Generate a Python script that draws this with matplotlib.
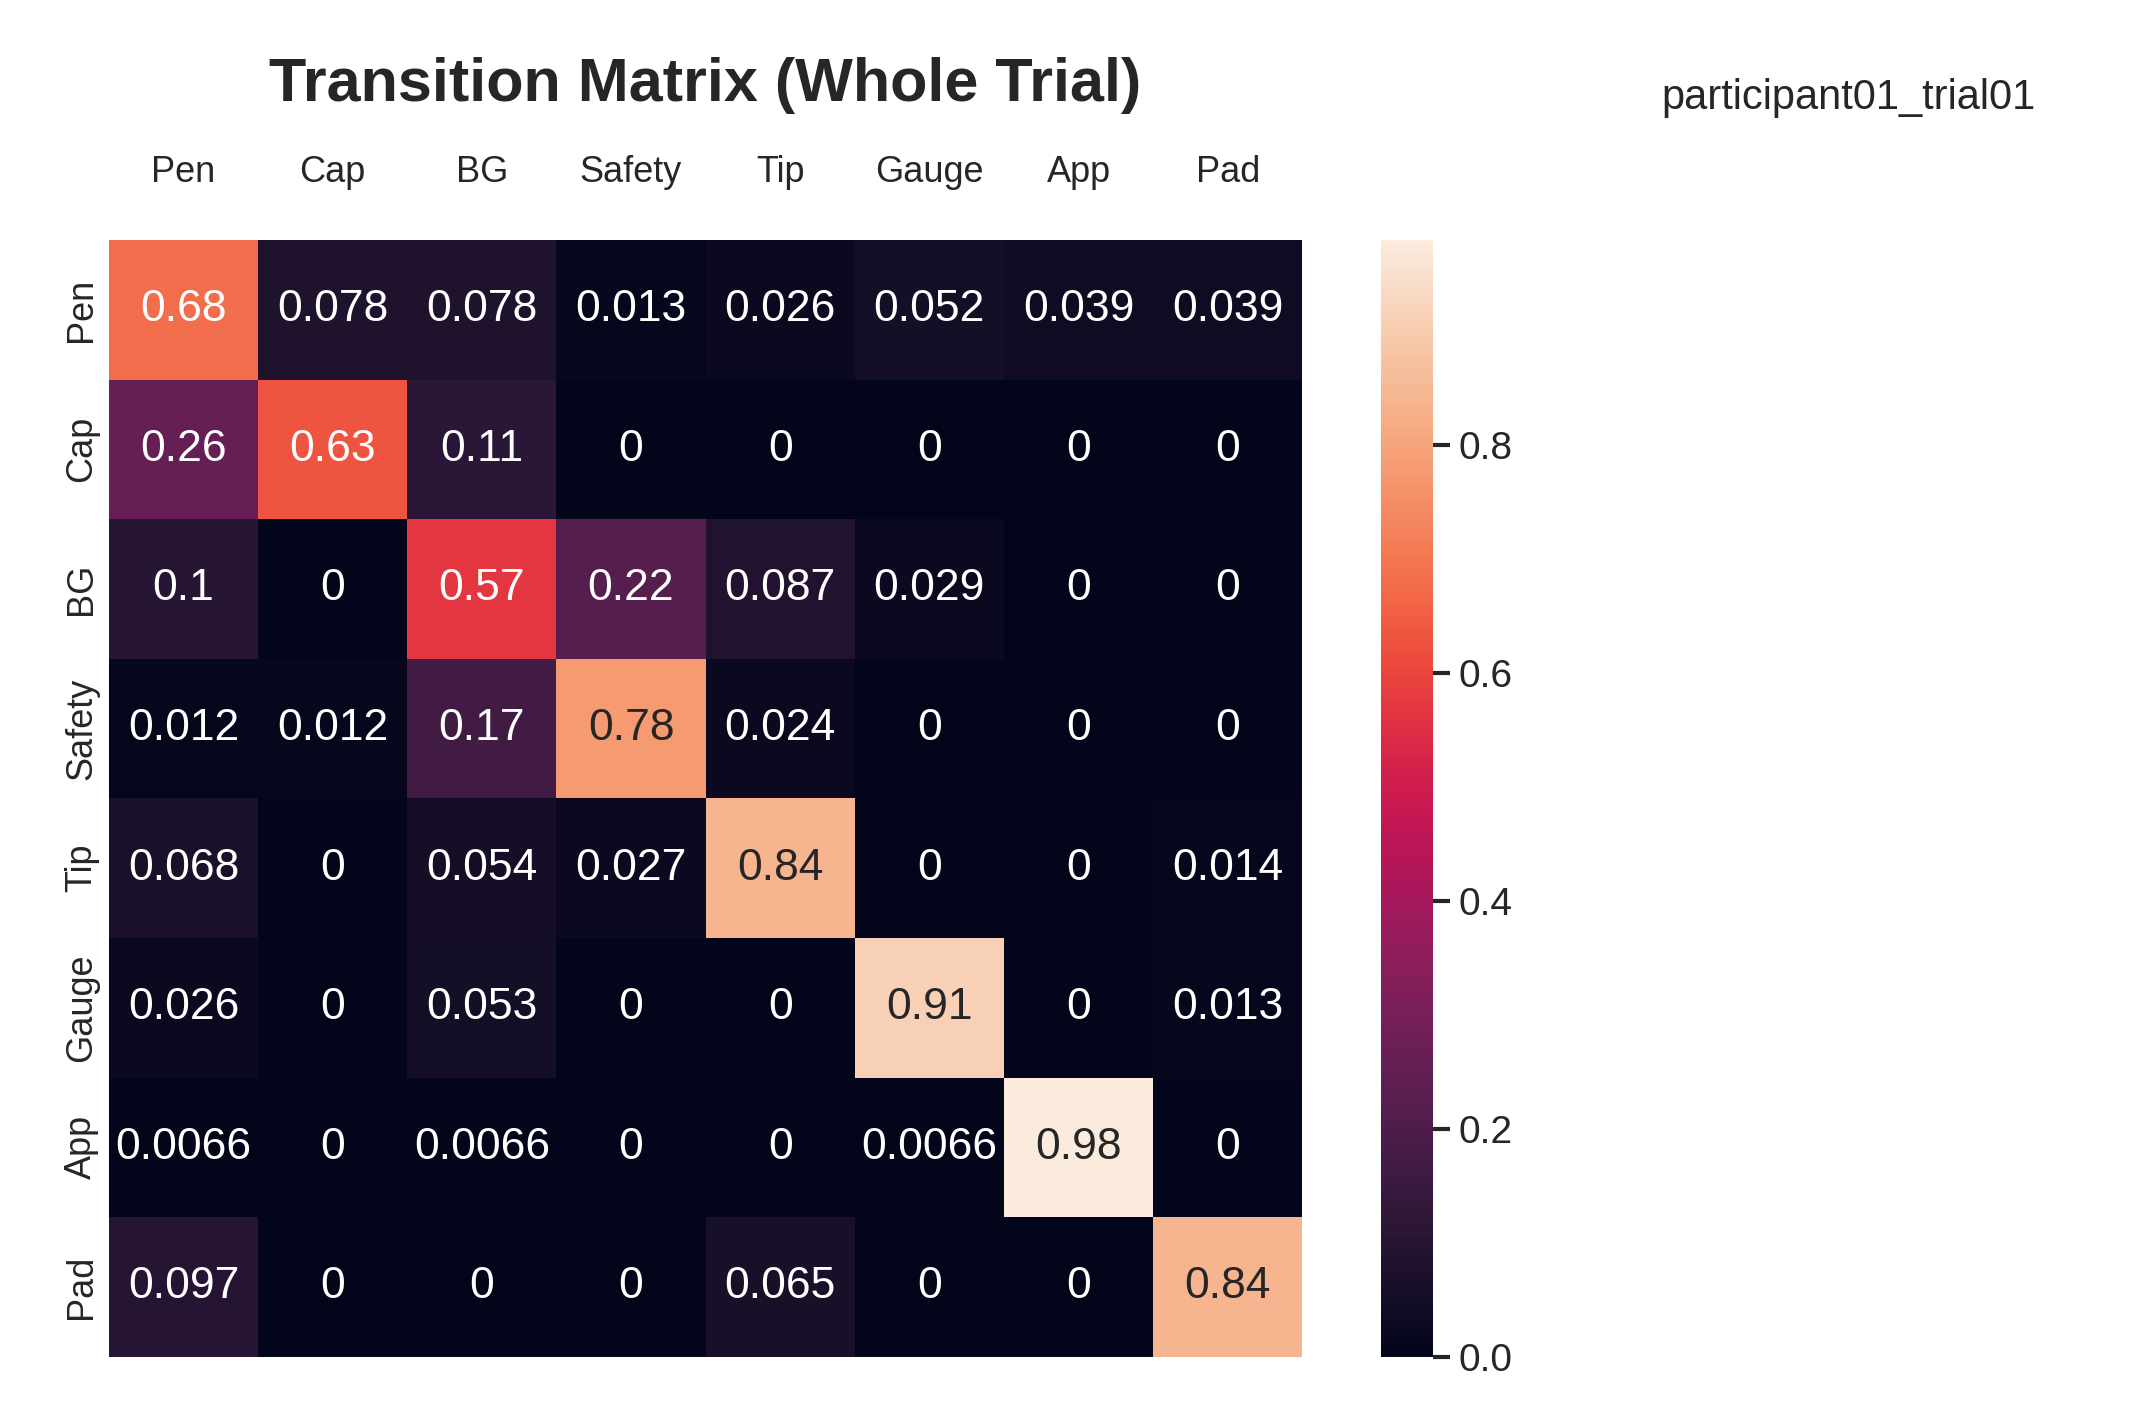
import numpy as np
import matplotlib.pyplot as plt
import seaborn as sns

labels = ['Pen', 'Cap', 'BG', 'Safety', 'Tip', 'Gauge', 'App', 'Pad']
matrix = [
    [0.68, 0.078, 0.078, 0.013, 0.026, 0.052, 0.039, 0.039],
    [0.26, 0.63, 0.11, 0, 0, 0, 0, 0],
    [0.1, 0, 0.57, 0.22, 0.087, 0.029, 0, 0],
    [0.012, 0.012, 0.17, 0.78, 0.024, 0, 0, 0],
    [0.068, 0, 0.054, 0.027, 0.84, 0, 0, 0.014],
    [0.026, 0, 0.053, 0, 0, 0.91, 0, 0.013],
    [0.0066, 0, 0.0066, 0, 0, 0.0066, 0.98, 0],
    [0.097, 0, 0, 0, 0.065, 0, 0, 0.84],
]
participant = 'participant01_trial01'

sns.set_theme(style='white', font_scale=1.4)
plt.rcParams['font.family'] = ['Liberation Sans', 'DejaVu Sans']

fig = plt.figure(figsize=(10.675, 7.015), dpi=200)
ax = fig.add_axes([0.051, 0.033, 0.559, 0.796])
cax = fig.add_axes([0.647, 0.033, 0.024, 0.796])

sns.heatmap(np.array(matrix), annot=True, cmap='rocket', ax=ax, cbar_ax=cax,
            xticklabels=labels, yticklabels=labels, annot_kws={'fontsize': 16})
ax.xaxis.tick_top()
ax.tick_params(axis='x', length=0, pad=18, labelsize=13)
ax.tick_params(axis='y', length=0, labelsize=13)
cax.tick_params(labelsize=14, length=6, width=1.5)
ax.set_title('Transition Matrix (Whole Trial)', fontsize=22, fontweight='bold', pad=50)
fig.text(0.778, 0.93, participant, fontsize=15, va='center')

fig.savefig('out.png', dpi=200)
